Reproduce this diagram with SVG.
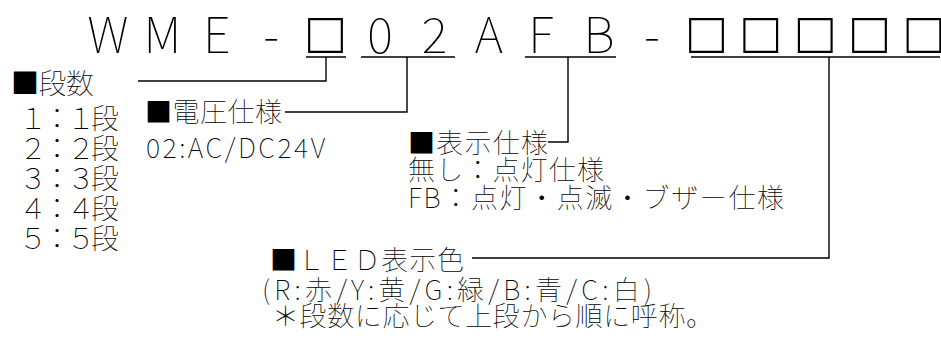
<svg xmlns="http://www.w3.org/2000/svg" width="941" height="338" viewBox="0 0 941 338">
<style>
text{font-family:"Noto Sans CJK JP","Noto Sans",sans-serif;font-weight:100;fill:#000;}
.t{font-size:27px;}
.n{font-size:28px;}
.title{font-size:49px;}
.bx{font-family:"DejaVu Sans",sans-serif;font-weight:200;font-size:58px;}
.c{fill:none;stroke:#000;stroke-width:1.4;}
</style>
<rect width="941" height="338" fill="#fff"/>
<g id="title">
<text class="title" y="53" text-anchor="middle"><tspan x="108">W</tspan><tspan x="162.4">M</tspan><tspan x="216.8">E</tspan><tspan x="271.2">-</tspan><tspan class="bx" x="325.6">□</tspan><tspan x="380">0</tspan><tspan x="434.4">2</tspan><tspan x="488.8">A</tspan><tspan x="541">F</tspan><tspan x="599">B</tspan><tspan x="652">-</tspan><tspan class="bx" x="706.4">□</tspan><tspan class="bx" x="760.8">□</tspan><tspan class="bx" x="815.2">□</tspan><tspan class="bx" x="869.6">□</tspan><tspan class="bx" x="924">□</tspan></text>
</g>
<g id="connectors">
<line class="c" x1="306" y1="57" x2="346" y2="57"/>
<line class="c" x1="361" y1="57" x2="455" y2="57"/>
<line class="c" x1="525" y1="57" x2="616" y2="57"/>
<line class="c" x1="691" y1="57" x2="940" y2="57"/>
<polyline class="c" points="326,57 326,81 138,81"/>
<polyline class="c" points="407,57 407,112 285,112"/>
<polyline class="c" points="568,57 568,142 548,142"/>
<polyline class="c" points="829,57 829,258 472,258"/>
</g>
<g id="stages">
<text class="n" x="11" y="94" textLength="83">■段数</text>
<text class="n" x="19" y="129" textLength="100">１：１段</text>
<text class="n" x="19" y="159" textLength="100">２：２段</text>
<text class="n" x="19" y="189" textLength="100">３：３段</text>
<text class="n" x="19" y="219" textLength="100">４：４段</text>
<text class="n" x="19" y="249" textLength="100">５：５段</text>
</g>
<g id="voltage">
<text class="t" x="145" y="122" textLength="137">■電圧仕様</text>
<text class="t" x="146" y="158" textLength="179">02:AC/DC24V</text>
</g>
<g id="display">
<text class="t" x="408" y="153" textLength="140">■表示仕様</text>
<text class="t" x="408" y="180" textLength="196">無し：点灯仕様</text>
<text class="t" x="408" y="208" textLength="376">FB：点灯・点滅・ブザー仕様</text>
</g>
<g id="led">
<text class="t" x="270" y="270" textLength="194">■ＬＥＤ表示色</text>
<text class="t" x="262" y="300" textLength="390">(R:赤/Y:黄/G:緑/B:青/C:白)</text>
<text class="t" x="272" y="326" textLength="441">＊段数に応じて上段から順に呼称。</text>
</g>
</svg>
